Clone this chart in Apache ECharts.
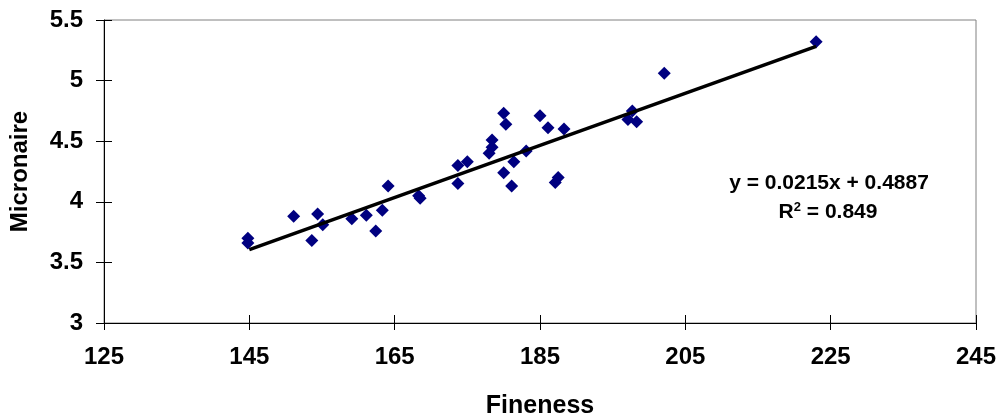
<!DOCTYPE html>
<html>
<head>
<meta charset="utf-8">
<script src="https://cdn.jsdelivr.net/npm/echarts@6/dist/echarts.min.js"></script>
<style>html,body{margin:0;padding:0;background:#fff}#c{width:998px;height:418px}</style>
</head>
<body>
<div id="c"></div>
<script>
const fineness = [144.8,144.8,151.1,153.6,154.4,155.1,159.1,161.1,162.4,163.3,164.1,168.3,168.5,173.7,173.7,175.0,178.0,178.4,178.4,180.0,180.3,180.0,181.1,181.4,183.1,185.0,186.1,187.1,187.5,188.3,197.1,197.7,198.3,202.1,223.0];
const micronaire = [3.70,3.66,3.88,3.68,3.90,3.81,3.86,3.89,3.76,3.93,4.13,4.05,4.03,4.15,4.30,4.33,4.40,4.45,4.51,4.73,4.64,4.24,4.13,4.33,4.42,4.71,4.61,4.16,4.20,4.60,4.68,4.75,4.66,5.06,5.32];
const slope = 0.0215, intercept = 0.4887, r2 = 0.849;
const trendRange = [145, 223];
const xTicks = [125, 245, 20];
const yTicks = [3, 5.5, 0.5];

const points = fineness.map((x, i) => [x, micronaire[i]]);
const trend = trendRange.map(x => [x, slope * x + intercept]);
const font = 'Liberation Sans, Arial, sans-serif';
const lbl = { fontFamily: font, fontWeight: 'bold', fontSize: 24, color: '#000' };

const chart = echarts.init(document.getElementById('c'));
chart.setOption({
  animation: false,
  grid: { left: 104, right: 22, top: 20, bottom: 95, containLabel: false, outerBoundsMode: 'none', show: true, borderColor: '#808080', borderWidth: 1, backgroundColor: '#fff' },
  xAxis: [{
    type: 'value', min: xTicks[0], max: xTicks[1], interval: xTicks[2],
    name: 'Fineness', nameLocation: 'middle', nameGap: 71,
    nameTextStyle: Object.assign({}, lbl, { fontSize: 25 }),
    axisLine: { lineStyle: { color: '#000', width: 1 } },
    axisTick: { show: true, length: 7, lineStyle: { color: '#000' } },
    axisLabel: Object.assign({ margin: 22 }, lbl),
    splitLine: { show: false }
  }, {
    type: 'value', min: xTicks[0], max: xTicks[1], interval: xTicks[2], position: 'bottom',
    axisLine: { show: false },
    axisTick: { show: true, inside: true, length: 8, lineStyle: { color: '#000' } },
    axisLabel: { show: false }, splitLine: { show: false }
  }],
  yAxis: [{
    type: 'value', min: yTicks[0], max: yTicks[1], interval: yTicks[2],
    name: 'Micronaire', nameLocation: 'middle', nameGap: 72, nameRotate: 90,
    nameTextStyle: lbl,
    axisLine: { show: true, lineStyle: { color: '#000', width: 1 } },
    axisTick: { show: true, length: 8, lineStyle: { color: '#000' } },
    axisLabel: Object.assign({ margin: 21 }, lbl),
    splitLine: { show: false }
  }, {
    type: 'value', min: yTicks[0], max: yTicks[1], interval: yTicks[2], position: 'left',
    axisLine: { show: false },
    axisTick: { show: true, inside: true, length: 8, lineStyle: { color: '#000' } },
    axisLabel: { show: false }, splitLine: { show: false }
  }],
  series: [
    {
      type: 'line', data: trend, symbol: 'none', z: 3,
      lineStyle: { color: '#000', width: 3.5 }
    },
    {
      type: 'scatter', data: points, symbol: 'diamond', symbolSize: 13, z: 2,
      itemStyle: { color: '#000080', opacity: 1 }
    }
  ],
  graphic: [
    {
      type: 'text', x: 829, y: 183,
      style: {
        text: 'y = ' + slope.toFixed(4) + 'x + ' + intercept.toFixed(4),
        font: 'bold 21px ' + font, fill: '#000', align: 'center', verticalAlign: 'middle'
      }
    },
    {
      type: 'text', x: 828, y: 212,
      style: {
        text: 'R{sup|2} = ' + r2,
        font: 'bold 21px ' + font, fill: '#000', align: 'center', verticalAlign: 'middle',
        rich: { sup: { font: 'bold 13px ' + font, fill: '#000', verticalAlign: 'top', padding: [0, 0, 10, 0] } }
      }
    }
  ]
});
</script>
</body>
</html>
